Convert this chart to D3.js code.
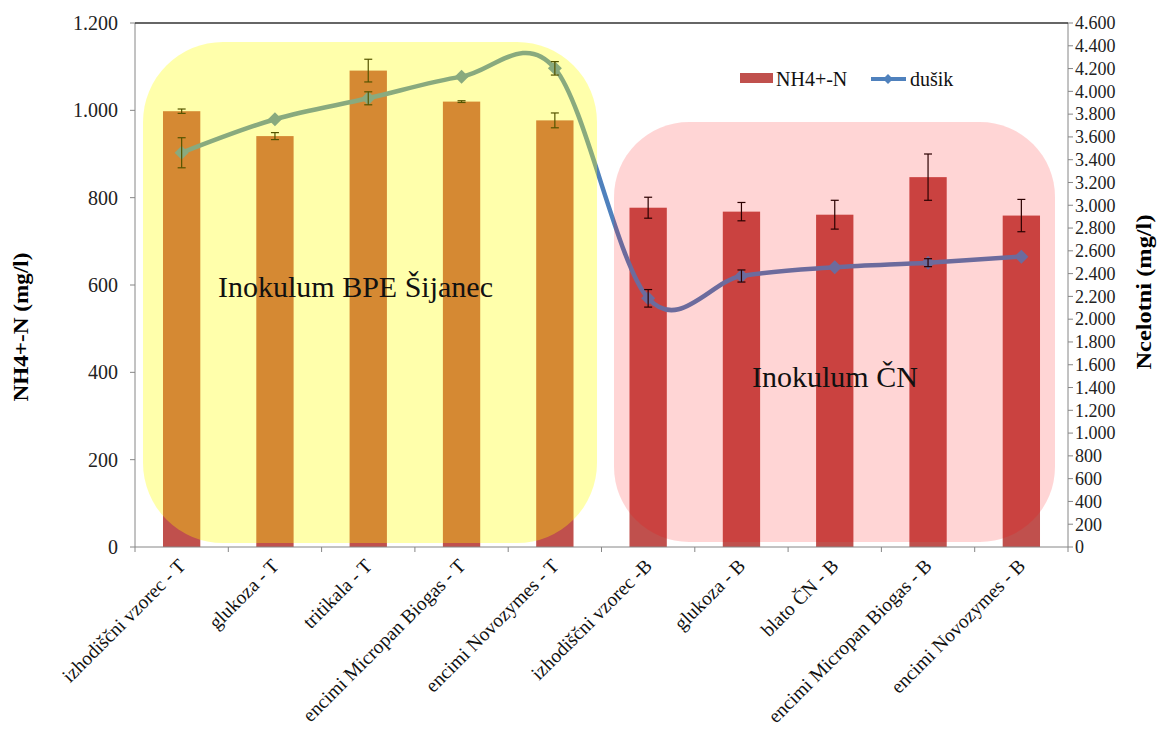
<!DOCTYPE html>
<html><head><meta charset="utf-8">
<script src="https://cdn.jsdelivr.net/npm/d3@7"></script>
<style>body{margin:0;background:#fff}svg text{font-family:"Liberation Serif","DejaVu Serif",serif}</style>
</head><body>
<svg id="c" width="1161" height="738"></svg>
<script>
const categories = ["izhodiščni vzorec - T","glukoza - T","tritikala - T","encimi Micropan Biogas - T","encimi Novozymes - T","izhodiščni vzorec -B","glukoza - B","blato ČN - B","encimi Micropan Biogas - B","encimi Novozymes - B"];
const nh4 = [998, 941, 1091, 1020, 977, 777, 768, 761, 847, 759];
const nh4Err = [5, 8, 26, 2, 17, 24, 21, 33, 53, 37];
const dusik = [3461, 3755, 3939, 4129, 4202, 2183, 2379, 2455, 2496, 2549];
const dusikErr = [132, 0, 57, 0, 59, 77, 53, 0, 35, 0];
const leftTicks = [0,200,400,600,800,1000,1200];
const rightTicks = [0,200,400,600,800,1000,1200,1400,1600,1800,2000,2200,2400,2600,2800,3000,3200,3400,3600,3800,4000,4200,4400,4600];
const seriesNames = ["NH4+-N","dušik"];
const groupLabels = ["Inokulum BPE Šijanec","Inokulum ČN"];
const leftTitle = "NH4+-N (mg/l)";
const rightTitle = "Ncelotni (mg/l)";

const FONT = "Liberation Serif, DejaVu Serif, serif";
const svg = d3.select("#c");
const L = 135, R = 1068, T = 23, B = 547;
const fmt = d3.formatLocale({decimal:",",thousands:".",grouping:[3],currency:["",""]}).format(",");
const x = d3.scaleBand().domain(categories).range([L,R]).padding(0);
const yL = d3.scaleLinear().domain([0,1200]).range([B,T]);
const yR = d3.scaleLinear().domain([0,4600]).range([B,T]);
const bw = x.bandwidth()*0.4;
const cx = c => x(c) + x.bandwidth()/2;
function txt(){ return svg.append("text").attr("font-family",FONT); }

// bars
svg.append("g").selectAll("rect").data(categories).join("rect")
  .attr("x", (c)=>cx(c)-bw/2).attr("width", bw)
  .attr("y", (c,i)=>yL(nh4[i])).attr("height", (c,i)=>B-yL(nh4[i]))
  .attr("fill","#C0504D");

function errBars(g, yScale, vals, errs){
  categories.forEach((c,i)=>{
    if(!errs[i]) return;
    const xc = cx(c), y1 = yScale(vals[i]+errs[i]), y2 = yScale(vals[i]-errs[i]);
    g.append("line").attr("x1",xc).attr("x2",xc).attr("y1",y1).attr("y2",y2);
    g.append("line").attr("x1",xc-4).attr("x2",xc+4).attr("y1",y1).attr("y2",y1);
    g.append("line").attr("x1",xc-4).attr("x2",xc+4).attr("y1",y2).attr("y2",y2);
  });
}
const eg = svg.append("g").attr("stroke","#000").attr("stroke-width",1.2);
errBars(eg, yL, nh4, nh4Err);

// line
const line = d3.line().x((d,i)=>cx(categories[i])).y(d=>yR(d)).curve(d3.curveCatmullRom.alpha(0));
svg.append("path").datum(dusik).attr("d",line).attr("fill","none").attr("stroke","#4F81BD").attr("stroke-width",4.5);
const diamond = "M0,-7L7,0L0,7L-7,0Z";
svg.append("g").selectAll("path").data(dusik).join("path")
  .attr("d",diamond).attr("transform",(d,i)=>`translate(${cx(categories[i])},${yR(d)})`)
  .attr("fill","#4F81BD");
const eg2 = svg.append("g").attr("stroke","#000").attr("stroke-width",1.2);
errBars(eg2, yR, dusik, dusikErr);

// overlays
svg.append("rect").attr("x",143).attr("y",42).attr("width",597-143).attr("height",543-42)
  .attr("rx",80).attr("fill","rgba(255,255,0,0.33)");
svg.append("rect").attr("x",614).attr("y",122).attr("width",1055-614).attr("height",542-122)
  .attr("rx",75).attr("fill","rgba(255,0,0,0.165)");

// axes
const ax = svg.append("g").attr("stroke","#868686").attr("stroke-width",1);
ax.append("line").attr("x1",L).attr("x2",L).attr("y1",T).attr("y2",B);
ax.append("line").attr("x1",R).attr("x2",R).attr("y1",T).attr("y2",B);
ax.append("line").attr("x1",L).attr("x2",R).attr("y1",B).attr("y2",B);
svg.append("line").attr("x1",L).attr("x2",R).attr("y1",T).attr("y2",T).attr("stroke","#333").attr("stroke-width",1.3);
leftTicks.forEach(v=>{
  ax.append("line").attr("x1",L-5).attr("x2",L).attr("y1",yL(v)).attr("y2",yL(v));
  txt().attr("x",L-17).attr("y",yL(v)).attr("dy","0.35em").attr("text-anchor","end")
    .attr("font-size",20).attr("fill","#222").text(fmt(v));
});
rightTicks.forEach(v=>{
  ax.append("line").attr("x1",R).attr("x2",R+5).attr("y1",yR(v)).attr("y2",yR(v));
  txt().attr("x",R+7).attr("y",yR(v)).attr("dy","0.35em").attr("text-anchor","start")
    .attr("font-size",18).attr("fill","#222").text(fmt(v));
});
for(let k=0;k<=categories.length;k++){
  const xx = L + k*x.bandwidth();
  ax.append("line").attr("x1",xx).attr("x2",xx).attr("y1",B).attr("y2",B+5);
}
categories.forEach(c=>{
  txt().attr("transform",`translate(${cx(c)+5},${567}) rotate(-45)`)
    .attr("text-anchor","end").attr("font-size",19.5).attr("fill","#111").text(c);
});

// axis titles
txt().attr("transform",`translate(28,327) rotate(-90)`).attr("text-anchor","middle")
  .attr("font-size",22).attr("font-weight","bold")
  .attr("textLength",149).attr("lengthAdjust","spacingAndGlyphs").text(leftTitle);
txt().attr("transform",`translate(1151,292) rotate(-90)`).attr("text-anchor","middle")
  .attr("font-size",22).attr("font-weight","bold")
  .attr("textLength",155).attr("lengthAdjust","spacingAndGlyphs").text(rightTitle);

// group labels
txt().attr("x",218).attr("y",297).attr("font-size",30).attr("fill","#111").text(groupLabels[0]);
txt().attr("x",752).attr("y",387).attr("font-size",30).attr("fill","#111").text(groupLabels[1]);

// legend
svg.append("rect").attr("x",740).attr("y",73).attr("width",33).attr("height",10).attr("fill","#C0504D");
txt().attr("x",776).attr("y",86).attr("font-size",20).attr("fill","#111").text(seriesNames[0]);
svg.append("line").attr("x1",871).attr("x2",906).attr("y1",79).attr("y2",79).attr("stroke","#4F81BD").attr("stroke-width",4);
svg.append("path").attr("d","M0,-5L5,0L0,5L-5,0Z").attr("transform","translate(888,79)").attr("fill","#4F81BD");
txt().attr("x",910).attr("y",86).attr("font-size",20).attr("fill","#111").text(seriesNames[1]);
</script>
</body></html>
